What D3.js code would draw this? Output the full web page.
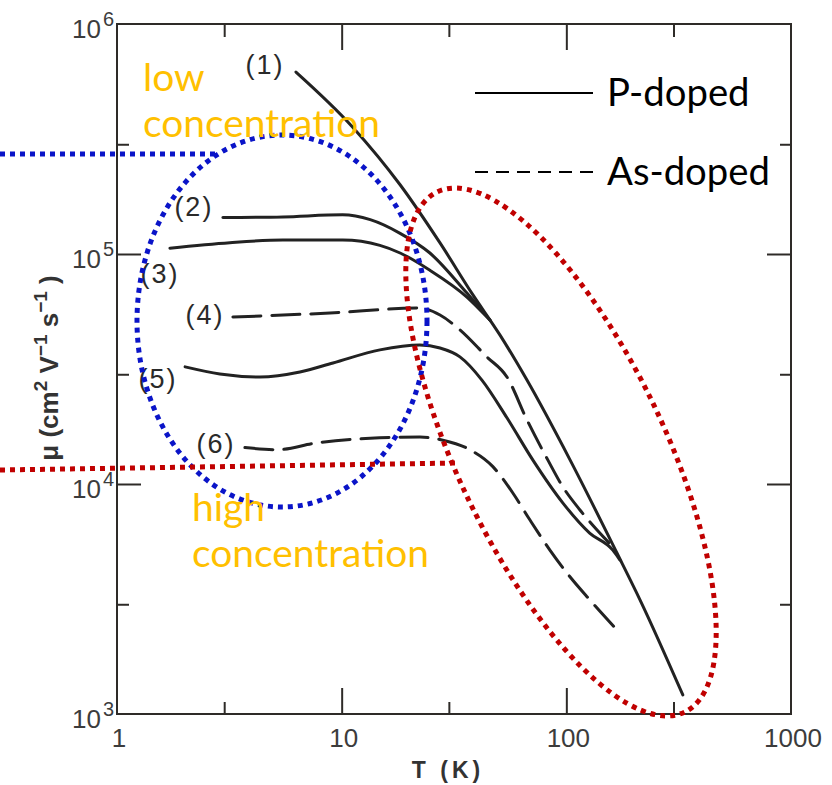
<!DOCTYPE html>
<html>
<head>
<meta charset="utf-8">
<script src="https://cdn.jsdelivr.net/npm/d3@7"></script>
<style>
  html, body { margin: 0; padding: 0; background: #fff; }
  svg { display: block; }
</style>
</head>
<body>
<svg id="chart" width="832" height="785"></svg>
<script>
// ---------- DATA ----------
// Curve (1) P-doped, solid
const T1  = [6.26, 11.2, 18.2, 27.4, 38.4, 50.6, 66.8, 104, 168, 213, 330];
const MU1 = [6.18e5, 3.56e5, 2.0e5, 1.117e5, 6.64e4, 4.45e4, 2.83e4, 1.27e4, 5010, 3130, 1210];
// Curve (2) P-doped, solid
const T2  = [2.96, 5.48, 10.1, 13.4, 18.2, 24.7, 36.1, 45.7];
const MU2 = [1.44e5, 1.45e5, 1.48e5, 1.41e5, 1.23e5, 1.01e5, 6.76e4, 5.16e4];
// Curve (3) P-doped, solid
const T3  = [1.72, 3.18, 5.48, 10.1, 14.8, 18.2, 24.7, 36.1, 45.7];
const MU3 = [1.06e5, 1.12e5, 1.15e5, 1.15e5, 1.09e5, 1.01e5, 8.5e4, 6.5e4, 5.16e4];
// Curve (4) As-doped, dashed
const T4  = [3.28, 8.87, 22.3, 27.4, 33.6, 44.3, 54.4, 66.8, 82.8, 96.6, 115, 137, 160];
const MU4 = [5.32e4, 5.54e4, 5.82e4, 5.43e4, 4.68e4, 3.57e4, 2.92e4, 1.90e4, 1.27e4, 9700, 7710, 6310, 5370];
// Curve (5) P-doped, solid
const T5  = [2.01, 2.87, 4.33, 6.52, 9.15, 14.8, 22.3, 27.4, 33.6, 42.1, 54.4, 71, 96.6, 127, 161, 173];
const MU5 = [3.23e4, 3.01e4, 2.92e4, 3.07e4, 3.36e4, 3.83e4, 4.02e4, 3.90e4, 3.57e4, 2.83e4, 1.94e4, 1.27e4, 8260, 6120, 5160, 4680];
// Curve (6) As-doped, dashed
const T6  = [3.71, 5.15, 7.76, 13.4, 22.3, 28.2, 37.2, 47.1, 57.8, 68.9, 84.5, 104, 127, 168];
const MU6 = [1.44e4, 1.41e4, 1.51e4, 1.58e4, 1.60e4, 1.55e4, 1.41e4, 1.19e4, 9140, 6970, 5160, 3940, 3140, 2320];

const curveNames = ["(1)", "(2)", "(3)", "(4)", "(5)", "(6)"];
const curveTypes = ["P", "P", "P", "As", "P", "As"];

const xTickValues = [1, 10, 100, 1000];
const xTickLabels = ["1", "10", "100", "1000"];
const yTickExps   = [3, 4, 5, 6];
const xMinorTicks = [3, 10, 30, 100, 300];
const yMinorTicks = [3e3, 1e4, 3e4, 1e5, 3e5];

const legendLabels = ["P-doped", "As-doped"];

// ---------- LAYOUT ----------
const L = 117, R = 791, TOP = 24, BOT = 714;
const svg = d3.select("#chart");
const x = d3.scaleLog().domain([1, 1000]).range([L, R]);
const y = d3.scaleLog().domain([1e3, 1e6]).range([BOT, TOP]);

const axisColor = "#2e2b28";
const tickFont = "'Liberation Sans Narrow', 'Liberation Sans', Arial, sans-serif";

// frame
svg.append("rect").attr("x", L).attr("y", TOP).attr("width", R - L).attr("height", BOT - TOP)
  .attr("fill", "none").attr("stroke", axisColor).attr("stroke-width", 2);

const isMajor = v => Math.abs(Math.log10(v) - Math.round(Math.log10(v))) < 1e-6;

// bottom ticks (inward)
const gB = svg.append("g").attr("transform", `translate(0,${BOT})`)
  .call(d3.axisBottom(x).tickValues(xMinorTicks).tickSize(0).tickFormat(""));
gB.select(".domain").remove();
gB.selectAll(".tick line").attr("y2", d => isMajor(d) ? -26 : -12).attr("stroke", axisColor).attr("stroke-width", 2);

// top ticks
const gT = svg.append("g").attr("transform", `translate(0,${TOP})`)
  .call(d3.axisTop(x).tickValues(xMinorTicks).tickSize(0).tickFormat(""));
gT.select(".domain").remove();
gT.selectAll(".tick line").attr("y2", d => isMajor(d) ? 26 : 13).attr("stroke", axisColor).attr("stroke-width", 2);

// left ticks
const gL = svg.append("g").attr("transform", `translate(${L},0)`)
  .call(d3.axisLeft(y).tickValues(yMinorTicks).tickSize(0).tickFormat(""));
gL.select(".domain").remove();
gL.selectAll(".tick line").attr("x2", d => isMajor(d) ? 24 : 12).attr("stroke", axisColor).attr("stroke-width", 2);

// right ticks
const gR = svg.append("g").attr("transform", `translate(${R},0)`)
  .call(d3.axisRight(y).tickValues(yMinorTicks).tickSize(0).tickFormat(""));
gR.select(".domain").remove();
gR.selectAll(".tick line").attr("x2", d => isMajor(d) ? -24 : -11).attr("stroke", axisColor).attr("stroke-width", 2);

// x tick labels
svg.append("g").selectAll("text").data(xTickValues).join("text")
  .attr("x", d => x(d) + 2).attr("y", BOT + 33)
  .attr("text-anchor", "middle")
  .attr("font-family", tickFont).attr("font-size", 26).attr("fill", "#3c3c3c")
  .text((d, i) => xTickLabels[i]);

// y tick labels (10^n)
const yl = svg.append("g").selectAll("text").data(yTickExps).join("text")
  .attr("x", 72).attr("y", d => y(Math.pow(10, d)) + 14)
  .attr("font-family", tickFont).attr("font-size", 26).attr("fill", "#3c3c3c");
yl.append("tspan").text("10");
yl.append("tspan").attr("dx", 2).attr("dy", -12).attr("font-size", 20).text(d => d);

// axis titles
svg.append("text").attr("x", 448).attr("y", 778).attr("text-anchor", "middle")
  .attr("font-family", "'Liberation Sans', Arial, sans-serif").attr("font-weight", "bold")
  .attr("font-size", 23).attr("letter-spacing", 4).attr("fill", "#333")
  .text("T (K)");

const yt = svg.append("text").attr("transform", "translate(58,368) rotate(-90)")
  .attr("text-anchor", "middle")
  .attr("font-family", "'Liberation Sans', Arial, sans-serif").attr("font-weight", "bold")
  .attr("font-size", 26).attr("fill", "#333");
yt.append("tspan").text("μ (cm");
yt.append("tspan").attr("dy", -11).attr("font-size", 19).text("2");
yt.append("tspan").attr("dy", 11).text(" V");
yt.append("tspan").attr("dy", -11).attr("font-size", 19).text("−1");
yt.append("tspan").attr("dy", 11).text(" s");
yt.append("tspan").attr("dy", -11).attr("font-size", 19).text("−1");
yt.append("tspan").attr("dy", 11).text(" )");

// ---------- CURVES ----------
const series = [
  {T: T1, M: MU1}, {T: T2, M: MU2}, {T: T3, M: MU3},
  {T: T4, M: MU4}, {T: T5, M: MU5}, {T: T6, M: MU6}
].map((s, i) => ({name: curveNames[i], type: curveTypes[i], pts: s.T.map((t, j) => [t, s.M[j]])}));

const line = d3.line().x(d => x(d[0])).y(d => y(d[1])).curve(d3.curveMonotoneX);

svg.append("g").selectAll("path").data(series).join("path")
  .attr("d", d => line(d.pts))
  .attr("fill", "none").attr("stroke", "#222").attr("stroke-width", 3)
  .attr("stroke-linecap", "round")
  .attr("stroke-dasharray", d => d.type === "As" ? "28,11" : null);

// curve labels, placed relative to each curve's first point
const labelOffsets = [[-31, 2], [-29, -2], [-10, 35], [-28, 7], [-27, 21], [-29, 5]];
svg.append("g").selectAll("text").data(series).join("text")
  .attr("x", (d, i) => x(d.pts[0][0]) + labelOffsets[i][0])
  .attr("y", (d, i) => y(d.pts[0][1]) + labelOffsets[i][1])
  .attr("text-anchor", "middle")
  .attr("font-family", "'Liberation Sans', Arial, sans-serif").attr("font-size", 27)
  .attr("letter-spacing", 2).attr("fill", "#2a2a2a")
  .text(d => d.name);

// ---------- LEGEND ----------
const officeFont = "Lato, 'Open Sans', 'Noto Sans', sans-serif";
const lg = svg.append("g");
const legRows = [{y: 93, dash: null}, {y: 172, dash: "13,8"}];
lg.selectAll("line").data(legRows).join("line")
  .attr("x1", 475).attr("x2", 593).attr("y1", d => d.y).attr("y2", d => d.y)
  .attr("stroke", "#000").attr("stroke-width", 2).attr("stroke-dasharray", d => d.dash);
const legTexts = lg.selectAll("text").data(legRows).join("text")
  .attr("x", 607).attr("y", d => d.y + 13)
  .attr("font-family", officeFont).attr("font-size", 40).attr("fill", "#000")
  .text((d, i) => legendLabels[i]);
{
  const w = legTexts.nodes()[1].getComputedTextLength();
  legTexts.attr("font-size", 40 * 163 / w);
}

// ---------- ANNOTATIONS ----------
const blue = "#0a14c8", red = "#c00000";
const ann = svg.append("g");
ann.append("line").attr("x1", 0).attr("y1", 154).attr("x2", 218).attr("y2", 154)
  .attr("stroke", blue).attr("stroke-width", 5).attr("stroke-dasharray", "5,5");
ann.append("ellipse").attr("cx", 282).attr("cy", 321).attr("rx", 145).attr("ry", 186)
  .attr("fill", "none").attr("stroke", blue).attr("stroke-width", 5).attr("stroke-dasharray", "5,5");
ann.append("line").attr("x1", 0).attr("y1", 470).attr("x2", 457).attr("y2", 463)
  .attr("stroke", red).attr("stroke-width", 5).attr("stroke-dasharray", "5,5");
ann.append("ellipse").attr("cx", 0).attr("cy", 0).attr("rx", 288).attr("ry", 104)
  .attr("transform", "translate(561,452) rotate(64.6)")
  .attr("fill", "none").attr("stroke", red).attr("stroke-width", 5).attr("stroke-dasharray", "5,5");

const orange = "#ffc000";
const oTexts = [
  {x: 143, y: 91, t: "low"}, {x: 143, y: 137, t: "concentration"},
  {x: 192, y: 521, t: "high"}, {x: 192, y: 567, t: "concentration"}
];
const ot = ann.selectAll("text.o").data(oTexts).join("text").attr("class", "o")
  .attr("x", d => d.x).attr("y", d => d.y)
  .attr("font-family", officeFont).attr("font-size", 40).attr("fill", orange)
  .text(d => d.t);
{
  const w = ot.nodes()[1].getComputedTextLength();
  ot.attr("font-size", 40 * 237 / w);
}
</script>
</body>
</html>
